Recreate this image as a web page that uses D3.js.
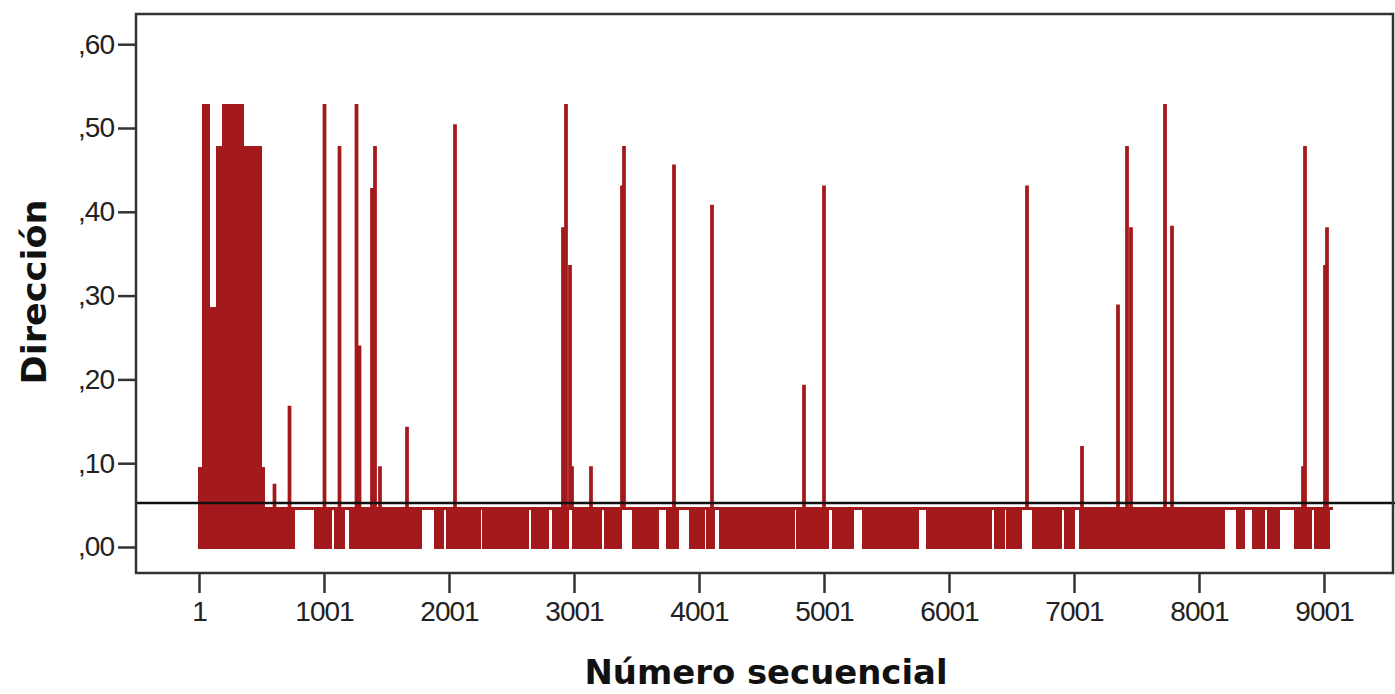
<!DOCTYPE html>
<html>
<head>
<meta charset="utf-8">
<script src="https://cdn.jsdelivr.net/npm/d3@7"></script>
<style>
  body { margin: 0; background: #fff; }
  svg { display: block; }
</style>
</head>
<body>
<svg id="chart"></svg>
<script>
// x ticks (Número secuencial) and y ticks (Dirección)
const xTicks = [1, 1001, 2001, 3001, 4001, 5001, 6001, 7001, 8001, 9001];
const yTicks = [0, 0.1, 0.2, 0.3, 0.4, 0.5, 0.6];

// series runs from case 1 to case 9073, sitting at a base level most of the time
const firstCase = 1;
const lastCase = 9073;
const baseLevel = 0.046;
const refLine = 0.0525;

// stretches where the series keeps dropping from the base level down to ,00
const dipStart = [1, 529, 673, 929, 1089, 1209, 1473, 1889, 1985, 2185, 2273, 2433, 2665, 2833, 2993,
  3249, 3473, 3745, 3929, 4065, 4169, 4249, 4785, 4873, 5073, 5313, 5473, 5825, 5993, 6369, 6465,
  6673, 6929, 7049, 7369, 8305, 8433, 8553, 8769, 8929];
const dipEnd = [513, 657, 753, 1049, 1153, 1449, 1769, 1945, 2169, 2241, 2409, 2625, 2785, 2945, 3209,
  3369, 3665, 3825, 4033, 4113, 4225, 4753, 4849, 5025, 5225, 5449, 5745, 5969, 6329, 6433, 6569,
  6889, 6993, 7345, 8193, 8353, 8513, 8633, 8889, 9033];

// dense burst at the start of the series: from case, to case, top value
const burstFrom = [1, 49, 145, 193, 33];
const burstTo = [513, 129, 489, 345, 73];
const burstTop = [0.094, 0.285, 0.477, 0.527, 0.527];

// single spikes above the base level
const spikeCase = [605, 725, 1005, 1125, 1285, 1261, 1385, 1409, 1449, 1665, 2049, 2913, 2937, 2969, 2985,
  3137, 3385, 3401, 3801, 4105, 4841, 5001, 6625, 7065, 7353, 7425, 7457, 7729, 7785, 8833, 8849,
  9009, 9025];
const spikeValue = [0.074, 0.167, 0.527, 0.477, 0.239, 0.527, 0.427, 0.477, 0.095, 0.142, 0.503, 0.38, 0.527, 0.335, 0.095,
  0.095, 0.43, 0.477, 0.455, 0.407, 0.192, 0.43, 0.43, 0.119, 0.288, 0.477, 0.38, 0.527, 0.382, 0.095, 0.477,
  0.335, 0.38];

const width = 1395;
const height = 694;
const frameLeft = 136, frameRight = 1393, frameTop = 14, frameBottom = 573;
const red = "#a3191c";

const svg = d3.select("#chart")
  .attr("width", width)
  .attr("height", height)
  .attr("viewBox", [0, 0, width, height]);

const x = d3.scaleLinear()
  .domain([1 - (199 - frameLeft) * 8, 1 + (frameRight - 199) * 8])
  .range([frameLeft, frameRight]);

const y = d3.scaleLinear()
  .domain([0, 0.6])
  .range([547, 547 - 0.6 * 838]);

const plot = svg.append("g");

// dip stretches, drawn as filled bands
plot.append("g")
  .attr("shape-rendering", "crispEdges")
  .selectAll("rect")
  .data(dipStart.map((s, i) => ({ from: s, to: dipEnd[i] })))
  .join("rect")
  .attr("x", d => x(d.from) - 1.5)
  .attr("width", d => x(d.to) - x(d.from) + 3)
  .attr("y", y(baseLevel) - 1.5)
  .attr("height", y(0) - y(baseLevel) + 3)
  .attr("fill", red);

// the dense burst
plot.append("g")
  .attr("shape-rendering", "crispEdges")
  .selectAll("rect")
  .data(burstFrom.map((s, i) => ({ from: s, to: burstTo[i], v: burstTop[i] })))
  .join("rect")
  .attr("x", d => x(d.from) - 1.5)
  .attr("width", d => x(d.to) - x(d.from) + 3)
  .attr("y", d => y(d.v) - 1.5)
  .attr("height", d => y(baseLevel) - y(d.v) + 3)
  .attr("fill", red);

// base level line
plot.append("line")
  .attr("x1", x(firstCase)).attr("x2", x(lastCase))
  .attr("y1", y(baseLevel)).attr("y2", y(baseLevel))
  .attr("stroke", red)
  .attr("stroke-width", 3);

// spikes
const line = d3.line()
  .x(d => x(d[0]))
  .y(d => y(d[1]));

plot.append("g")
  .selectAll("path")
  .data(spikeCase.map((c, i) => [
    [c - 5, baseLevel], [c - 5, spikeValue[i]], [c + 5, spikeValue[i]], [c + 5, baseLevel]
  ]))
  .join("path")
  .attr("d", line)
  .attr("fill", "none")
  .attr("stroke", red)
  .attr("stroke-width", 2.5);

// reference line
svg.append("line")
  .attr("x1", frameLeft).attr("x2", width)
  .attr("y1", y(refLine)).attr("y2", y(refLine))
  .attr("stroke", "#111")
  .attr("stroke-width", 2.5);

// frame
svg.append("rect")
  .attr("x", frameLeft).attr("y", frameTop)
  .attr("width", frameRight - frameLeft).attr("height", frameBottom - frameTop)
  .attr("fill", "none")
  .attr("stroke", "#333")
  .attr("stroke-width", 2.5);

// axes
const xAxis = svg.append("g")
  .attr("transform", `translate(0,${frameBottom})`)
  .call(d3.axisBottom(x).tickValues(xTicks).tickSize(20).tickPadding(8).tickFormat(d3.format("d")));

const yAxis = svg.append("g")
  .attr("transform", `translate(${frameLeft},0)`)
  .call(d3.axisLeft(y).tickValues(yTicks).tickSize(18).tickPadding(4)
    .tickFormat(d => d3.format(".2f")(d).replace("0.", ",")));

[xAxis, yAxis].forEach(g => {
  g.select(".domain").remove();
  g.selectAll(".tick line").attr("stroke", "#333").attr("stroke-width", 2.5);
  g.selectAll(".tick text")
    .attr("fill", "#222")
    .style("font-family", "'Liberation Sans', Arial, sans-serif")
    .style("font-size", "28px")
    .style("letter-spacing", "-1px");
});

// axis titles
svg.append("text")
  .attr("transform", "translate(46,292) rotate(-90)")
  .attr("text-anchor", "middle")
  .attr("textLength", 185)
  .attr("lengthAdjust", "spacingAndGlyphs")
  .style("font-family", "'DejaVu Sans', sans-serif")
  .style("font-weight", "bold")
  .style("font-size", "34px")
  .attr("fill", "#111")
  .text("Dirección");

svg.append("text")
  .attr("x", 766)
  .attr("y", 684)
  .attr("text-anchor", "middle")
  .attr("textLength", 363)
  .attr("lengthAdjust", "spacingAndGlyphs")
  .style("font-family", "'DejaVu Sans', sans-serif")
  .style("font-weight", "bold")
  .style("font-size", "33px")
  .attr("fill", "#111")
  .text("Número secuencial");
</script>
</body>
</html>
